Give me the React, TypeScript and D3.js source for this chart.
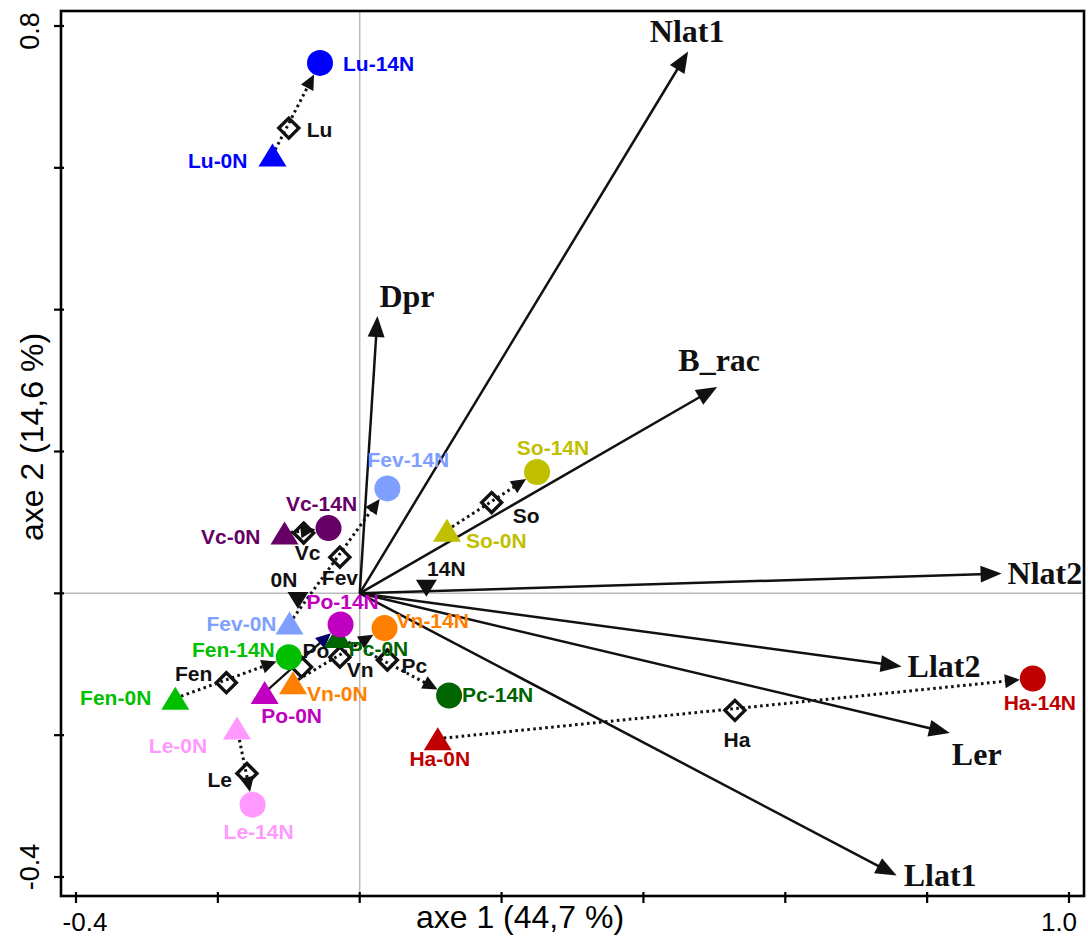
import React from "react";
import * as d3 from "d3";

// ---- data (chart units) ----
const groups = ["Lu", "Vc", "Fev", "So", "Po", "Pc", "Vn", "Fen", "Le", "Ha"];
const x0N = [-0.123, -0.106, -0.099, 0.123, -0.134, -0.031, -0.094, -0.26, -0.173, 0.11];
const y0N = [0.618, 0.085, -0.042, 0.089, -0.14, -0.061, -0.126, -0.148, -0.19, -0.205];
const x14N = [-0.056, -0.044, 0.039, 0.25, -0.027, 0.126, 0.035, -0.1, -0.151, 0.949];
const y14N = [0.748, 0.092, 0.148, 0.171, -0.044, -0.144, -0.049, -0.09, -0.298, -0.12];
const xMid = [-0.1, -0.079, -0.028, 0.186, -0.082, 0.039, -0.028, -0.188, -0.159, 0.529];
const yMid = [0.656, 0.085, 0.051, 0.128, -0.104, -0.094, -0.09, -0.126, -0.254, -0.165];

const variables = ["Nlat1", "Dpr", "B_rac", "Nlat2", "Llat2", "Ler", "Llat1"];
const varX = [0.463, 0.025, 0.504, 0.905, 0.764, 0.832, 0.757];
const varY = [0.764, 0.391, 0.291, 0.028, -0.103, -0.197, -0.398];

const levels = ["0N", "14N"];
const levelX = [-0.087, 0.094];
const levelY = [-0.01, 0.007];

const xTickValues = [-0.4, -0.2, 0, 0.2, 0.4, 0.6, 0.8, 1.0];
const yTickValues = [-0.4, -0.2, 0, 0.2, 0.4, 0.6, 0.8];
const xTickLabels = ["-0.4", "1.0"];
const yTickLabels = ["-0.4", "0.8"];
const xTitle = "axe 1 (44,7 %)";
const yTitle = "axe 2 (14,6 %)";

// ---- styles ----
const colors: Record<string, string> = {
  Lu: "#0000ff", Vc: "#660066", Fev: "#7f9fff", So: "#c0c000", Po: "#c000c0",
  Pc: "#006400", Vn: "#ff8000", Fen: "#00c000", Le: "#ff99ff", Ha: "#c00000",
};
type LP = [number, number, string];
const labelPos: Record<string, { n0: LP; n14: LP; mid: LP }> = {
  Lu: { n0: [-25, 13, "end"], n14: [23, 8, "start"], mid: [18, 9, "start"] },
  Vc: { n0: [-24, 11, "end"], n14: [-7, -17, "middle"], mid: [-9, 27, "start"] },
  Fev: { n0: [-13, 8, "end"], n14: [21, -21, "middle"], mid: [-18, 28, "start"] },
  So: { n0: [19, 18, "start"], n14: [16, -17, "middle"], mid: [21, 20, "start"] },
  Po: { n0: [27, 30, "middle"], n14: [2, -16, "middle"], mid: [1, -9, "start"] },
  Pc: { n0: [11, 19, "start"], n14: [13, 7, "start"], mid: [14, 13, "start"] },
  Vn: { n0: [14, 18, "start"], n14: [12, 0, "start"], mid: [7, 20, "start"] },
  Fen: { n0: [-24, 7, "end"], n14: [-14, 0, "end"], mid: [-14, -2, "end"] },
  Le: { n0: [-59, 25, "middle"], n14: [6, 34, "middle"], mid: [-15, 14, "end"] },
  Ha: { n0: [2, 27, "middle"], n14: [7, 32, "middle"], mid: [2, 37, "middle"] },
};
const solidGroups = ["Po"];
const headColor: Record<string, string> = { Po: "#000066" };
const varLabelPos: LP[] = [
  [-1, -10, "middle"], [2, -9, "start"], [2, -16, "middle"], [6, 11, "start"],
  [6, 11, "start"], [2, 32, "start"], [7, 10, "start"],
];
const levelLabelPos: LP[] = [[-14, -13, "middle"], [20, -12, "middle"]];

const W = 1088, H = 938;
const frame = { l: 61, t: 11, r: 1084, b: 896 };
const sx = d3.scaleLinear().domain([-0.4, 1.0]).range([76, 1069]);
const sy = d3.scaleLinear().domain([-0.4, 0.8]).range([877, 26]);

const SANS = "'Liberation Sans', Arial, Helvetica, sans-serif";
const SERIF = "'Liberation Serif', 'Times New Roman', serif";

function head(x1: number, y1: number, x2: number, y2: number, len: number, half: number) {
  const dx = x2 - x1, dy = y2 - y1;
  const d = Math.hypot(dx, dy);
  const ux = dx / d, uy = dy / d;
  const bx = x2 - ux * len, by = y2 - uy * len;
  const p = d3.path();
  p.moveTo(x2, y2);
  p.lineTo(bx - uy * half, by + ux * half);
  p.lineTo(bx + uy * half, by - ux * half);
  p.closePath();
  return p.toString();
}

const R = 13;
function triPath(cx: number, cy: number, w: number, h: number, down = false) {
  const p = d3.path();
  if (down) {
    p.moveTo(cx - w / 2, cy - h / 2); p.lineTo(cx + w / 2, cy - h / 2); p.lineTo(cx, cy + h / 2);
  } else {
    p.moveTo(cx - w / 2, cy + h / 2); p.lineTo(cx + w / 2, cy + h / 2); p.lineTo(cx, cy - h / 2);
  }
  p.closePath();
  return p.toString();
}

export default function App() {
  const ox = sx(0), oy = sy(0);
  return (
    <svg width={W} height={H} style={{ position: "absolute", left: 0, top: 0, background: "#fff" }}>
      <rect x={0} y={0} width={W} height={H} fill="#fff" />
      {/* zero lines */}
      <line x1={sx(0)} x2={sx(0)} y1={frame.t} y2={frame.b} stroke="#bbbbbb" strokeWidth={1.5} />
      <line x1={frame.l} x2={frame.r} y1={sy(0)} y2={sy(0)} stroke="#bbbbbb" strokeWidth={1.5} />

      {/* variable vectors */}
      {variables.map((v, i) => {
        const tx = sx(varX[i]), ty = sy(varY[i]);
        const d = Math.hypot(tx - ox, ty - oy);
        const ex = tx - ((tx - ox) / d) * 14, ey = ty - ((ty - oy) / d) * 14;
        const lp = varLabelPos[i];
        return (
          <g key={v}>
            <line x1={ox} y1={oy} x2={ex} y2={ey} stroke="#111" strokeWidth={2.5} />
            <path d={head(ox, oy, tx, ty, 21, 8.5)} fill="#111" />
            <text x={tx + lp[0]} y={ty + lp[1]} textAnchor={lp[2] as any} fontFamily={SERIF}
              fontWeight="bold" fontSize={32} fill="#111">{v}</text>
          </g>
        );
      })}

      {/* group trajectories */}
      {groups.map((g, i) => {
        const x1 = sx(x0N[i]), y1 = sy(y0N[i]);
        const x2 = sx(x14N[i]), y2 = sy(y14N[i]);
        const d = Math.hypot(x2 - x1, y2 - y1);
        const ux = (x2 - x1) / d, uy = (y2 - y1) / d;
        const tx = x2 - ux * R, ty = y2 - uy * R;
        const lx = tx - ux * 10, ly = ty - uy * 10;
        const solid = solidGroups.includes(g);
        return (
          <g key={g + "-traj"}>
            <line x1={x1} y1={y1} x2={lx} y2={ly} stroke="#111" strokeWidth={solid ? 2.2 : 3}
              strokeDasharray={solid ? undefined : "2.6 3.4"} />
            <path d={head(x1, y1, tx, ty, 15, 7)} fill={headColor[g] || "#111"} />
          </g>
        );
      })}

      {/* level markers */}
      {levels.map((l, i) => {
        const cx = sx(levelX[i]), cy = sy(levelY[i]);
        const lp = levelLabelPos[i];
        return (
          <g key={l}>
            <path d={triPath(cx, cy, 21, 17, true)} fill="#111" />
            <text x={cx + lp[0]} y={cy + lp[1]} textAnchor={lp[2] as any} fontFamily={SANS}
              fontWeight="bold" fontSize={21} fill="#111">{l}</text>
          </g>
        );
      })}

      {/* diamonds */}
      {groups.map((g, i) => {
        const cx = sx(xMid[i]), cy = sy(yMid[i]);
        const h = 10;
        const p = d3.path();
        p.moveTo(cx, cy - h); p.lineTo(cx + h, cy); p.lineTo(cx, cy + h); p.lineTo(cx - h, cy); p.closePath();
        return <path key={g + "-mid"} d={p.toString()} fill="none" stroke="#111" strokeWidth={3.4} strokeLinejoin="miter" />;
      })}

      {/* 0N triangles */}
      {groups.map((g, i) => (
        <path key={g + "-0"} d={triPath(sx(x0N[i]), sy(y0N[i]), 28, 23)} fill={colors[g]} />
      ))}
      {/* 14N circles */}
      {groups.map((g, i) => (
        <circle key={g + "-14"} cx={sx(x14N[i])} cy={sy(y14N[i])} r={R} fill={colors[g]} />
      ))}

      {/* point labels */}
      {groups.map((g, i) => {
        const lp = labelPos[g];
        const a = [sx(x0N[i]), sy(y0N[i])], b = [sx(x14N[i]), sy(y14N[i])], m = [sx(xMid[i]), sy(yMid[i])];
        return (
          <g key={g + "-lab"} fontFamily={SANS} fontWeight="bold" fontSize={21}>
            <text x={a[0] + lp.n0[0]} y={a[1] + lp.n0[1]} textAnchor={lp.n0[2] as any} fill={colors[g]}>{g}-0N</text>
            <text x={b[0] + lp.n14[0]} y={b[1] + lp.n14[1]} textAnchor={lp.n14[2] as any} fill={colors[g]}>{g}-14N</text>
            <text x={m[0] + lp.mid[0]} y={m[1] + lp.mid[1]} textAnchor={lp.mid[2] as any} fill="#111">{g}</text>
          </g>
        );
      })}

      {/* frame */}
      <rect x={frame.l} y={frame.t} width={frame.r - frame.l} height={frame.b - frame.t} fill="none" stroke="#000" strokeWidth={2.6} />
      {xTickValues.map((v) => (
        <line key={"xt" + v} x1={sx(v)} x2={sx(v)} y1={frame.b - 4} y2={frame.b + 7} stroke="#000" strokeWidth={2.2} />
      ))}
      {yTickValues.map((v) => (
        <line key={"yt" + v} x1={frame.l - 7} x2={frame.l + 3} y1={sy(v)} y2={sy(v)} stroke="#000" strokeWidth={2.2} />
      ))}
      {/* tick labels */}
      <text x={sx(-0.4) + 9} y={931} textAnchor="middle" fontFamily={SANS} fontSize={26} fill="#000">{xTickLabels[0]}</text>
      <text x={sx(1.0) - 10} y={931} textAnchor="middle" fontFamily={SANS} fontSize={26} fill="#000">{xTickLabels[1]}</text>
      <text transform={`translate(39,${sy(-0.4) - 10}) rotate(-90)`} textAnchor="middle" fontFamily={SANS} fontSize={27} fill="#000">{yTickLabels[0]}</text>
      <text transform={`translate(39,${sy(0.8) + 5}) rotate(-90)`} textAnchor="middle" fontFamily={SANS} fontSize={27} fill="#000">{yTickLabels[1]}</text>
      {/* axis titles */}
      <text x={520} y={928} textAnchor="middle" fontFamily={SANS} fontSize={32} fill="#000">{xTitle}</text>
      <text transform={`translate(43,437) rotate(-90)`} textAnchor="middle" fontFamily={SANS} fontSize={32} fill="#000">{yTitle}</text>
    </svg>
  );
}
